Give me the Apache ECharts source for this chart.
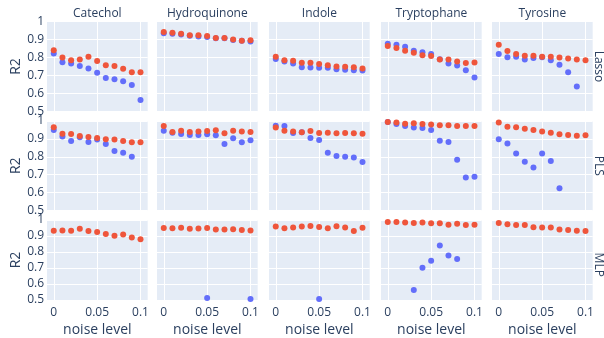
<!DOCTYPE html>
<html>
<head>
<meta charset="utf-8">
<script src="https://cdn.jsdelivr.net/npm/echarts@6/dist/echarts.min.js"></script>
<style>
  html, body { margin: 0; padding: 0; background: #fff; }
  #chart { width: 604px; height: 338px; }
</style>
</head>
<body>
<div id="chart"></div>
<script>
const noise = [0, 0.01, 0.02, 0.03, 0.04, 0.05, 0.06, 0.07, 0.08, 0.09, 0.1];
const compounds = ["Catechol", "Hydroquinone", "Indole", "Tryptophane", "Tyrosine"];
const models = ["Lasso", "PLS", "MLP"];
const xTicks = [0, 0.05, 0.1];

// one list per compound, in the order of `compounds`; null = not visible (below 0.5)
const lassoBlue = [
  [0.823, 0.774, 0.767, 0.752, 0.739, 0.715, 0.685, 0.679, 0.668, 0.646, 0.562],
  [0.935, 0.932, 0.928, 0.922, 0.918, 0.915, 0.907, 0.907, 0.898, 0.893, 0.89],
  [0.791, 0.778, 0.767, 0.746, 0.744, 0.743, 0.743, 0.735, 0.731, 0.729, 0.728],
  [0.877, 0.871, 0.86, 0.838, 0.829, 0.819, 0.79, 0.767, 0.756, 0.729, 0.688],
  [0.819, 0.802, 0.804, 0.789, 0.797, 0.802, 0.784, 0.759, 0.718, 0.638, null],
];
const lassoRed = [
  [0.841, 0.8, 0.785, 0.789, 0.804, 0.78, 0.757, 0.752, 0.737, 0.718, 0.718],
  [0.942, 0.938, 0.933, 0.925, 0.924, 0.92, 0.909, 0.909, 0.901, 0.894, 0.896],
  [0.804, 0.785, 0.782, 0.77, 0.77, 0.763, 0.757, 0.75, 0.748, 0.746, 0.739],
  [0.864, 0.853, 0.838, 0.827, 0.812, 0.808, 0.789, 0.789, 0.778, 0.769, 0.772],
  [0.871, 0.836, 0.819, 0.81, 0.81, 0.804, 0.804, 0.8, 0.795, 0.789, 0.785],
];
const plsBlue = [
  [0.95, 0.913, 0.888, 0.909, 0.883, 0.896, 0.872, 0.833, 0.823, 0.8, null],
  [0.946, 0.935, 0.928, 0.922, 0.922, 0.926, 0.92, 0.872, 0.903, 0.881, 0.892],
  [0.974, 0.972, 0.933, 0.937, 0.905, 0.894, 0.822, 0.805, 0.8, 0.796, 0.771],
  [0.994, 0.983, 0.972, 0.963, 0.961, 0.95, 0.89, 0.883, 0.784, 0.684, 0.688],
  [0.898, 0.875, 0.818, 0.773, 0.74, 0.818, 0.777, 0.625, null, null, null],
];
const plsRed = [
  [0.965, 0.929, 0.928, 0.916, 0.911, 0.905, 0.898, 0.896, 0.888, 0.881, 0.881],
  [0.972, 0.939, 0.946, 0.939, 0.942, 0.944, 0.948, 0.931, 0.946, 0.942, 0.939],
  [0.963, 0.946, 0.942, 0.937, 0.944, 0.933, 0.935, 0.931, 0.933, 0.931, 0.929],
  [0.994, 0.991, 0.985, 0.987, 0.983, 0.981, 0.976, 0.976, 0.972, 0.972, 0.972],
  [0.991, 0.968, 0.965, 0.957, 0.95, 0.942, 0.935, 0.926, 0.922, 0.918, 0.92],
];
const mlpBlue = [
  [null, null, null, null, null, null, null, null, null, null, null],
  [null, null, null, null, null, 0.513, null, null, null, null, 0.507],
  [null, null, null, null, null, 0.507, null, null, null, null, null],
  [null, null, null, 0.563, 0.701, 0.746, 0.84, 0.778, 0.756, null, null],
  [null, null, null, null, null, null, null, null, null, null, null],
];
const mlpRed = [
  [0.933, 0.935, 0.933, 0.946, 0.931, 0.925, 0.912, 0.901, 0.91, 0.89, 0.879],
  [0.95, 0.948, 0.951, 0.946, 0.947, 0.95, 0.94, 0.94, 0.942, 0.938, 0.935],
  [0.959, 0.948, 0.953, 0.959, 0.963, 0.957, 0.948, 0.961, 0.953, 0.931, 0.951],
  [0.987, 0.987, 0.985, 0.981, 0.985, 0.979, 0.979, 0.97, 0.976, 0.968, 0.97],
  [0.981, 0.974, 0.968, 0.968, 0.955, 0.953, 0.953, 0.94, 0.938, 0.933, 0.931],
];

const blueRows = [lassoBlue, plsBlue, mlpBlue];
const redRows = [lassoRed, plsRed, mlpRed];

const colLeft = [47, 157, 269, 381, 492];
const colWidth = 100.7;
const rowTop = [21.7, 121, 220];
const rowHeight = 89.5;
const textColor = "#2a3f5f";
const font = "'Open Sans', Verdana, Arial, sans-serif";

const myChart = echarts.init(document.getElementById("chart"));

const grids = [];
const xAxes = [];
const yAxes = [];
const series = [];
const graphics = [];

function points(vals) {
  const out = [];
  vals.forEach((v, i) => {
    if (v !== null) out.push([noise[i], v]);
  });
  return out;
}

models.forEach((model, r) => {
  compounds.forEach((name, c) => {
    const idx = grids.length;
    grids.push({
      left: colLeft[c],
      top: rowTop[r],
      width: colWidth,
      height: rowHeight,
      show: true,
      backgroundColor: "#E5ECF6",
      borderWidth: 0,
    });
    xAxes.push({
      type: "value",
      gridIndex: idx,
      min: -0.0078,
      max: 0.1083,
      axisLine: { show: false },
      axisTick: { show: false, customValues: xTicks },
      axisLabel: {
        show: r === 2,
        customValues: xTicks,
        color: textColor,
        fontSize: 12,
        fontFamily: font,
        margin: 7,
      },
      splitLine: { show: true, lineStyle: { color: "#fff", width: 1 } },
      name: r === 2 ? "noise level" : "",
      nameLocation: "middle",
      nameGap: 23,
      nameTextStyle: { color: textColor, fontSize: 14, fontFamily: font },
    });
    yAxes.push({
      type: "value",
      gridIndex: idx,
      min: 0.5,
      max: 1,
      interval: 0.1,
      axisLine: { show: false },
      axisTick: { show: false },
      axisLabel: {
        show: c === 0,
        color: textColor,
        fontSize: 12,
        fontFamily: font,
        margin: 3,
      },
      splitLine: { show: true, lineStyle: { color: "#fff", width: 1 } },
      name: c === 0 ? "R2" : "",
      nameLocation: "middle",
      nameGap: 15,
      nameTextStyle: { color: textColor, fontSize: 14, fontFamily: font },
    });
    series.push({
      type: "scatter",
      xAxisIndex: idx,
      yAxisIndex: idx,
      symbolSize: 6,
      itemStyle: { color: "#636efa", opacity: 1 },
      data: points(blueRows[r][c]),
    });
    series.push({
      type: "scatter",
      xAxisIndex: idx,
      yAxisIndex: idx,
      symbolSize: 6,
      itemStyle: { color: "#EF553B", opacity: 1 },
      data: points(redRows[r][c]),
    });
  });
  graphics.push({
    type: "text",
    x: 598,
    y: rowTop[r] + rowHeight / 2,
    rotation: -Math.PI / 2,
    style: {
      text: model,
      fill: textColor,
      font: "12px " + font,
      align: "center",
      verticalAlign: "middle",
    },
  });
});

const titles = compounds.map((name, c) => ({
  text: name,
  left: colLeft[c] + colWidth / 2,
  top: 8,
  textAlign: "center",
  padding: 0,
  textStyle: { color: textColor, fontSize: 12, fontWeight: "normal", fontFamily: font },
}));

myChart.setOption({
  backgroundColor: "#fff",
  animation: false,
  title: titles,
  grid: grids,
  xAxis: xAxes,
  yAxis: yAxes,
  series: series,
  graphic: graphics,
});
</script>
</body>
</html>
